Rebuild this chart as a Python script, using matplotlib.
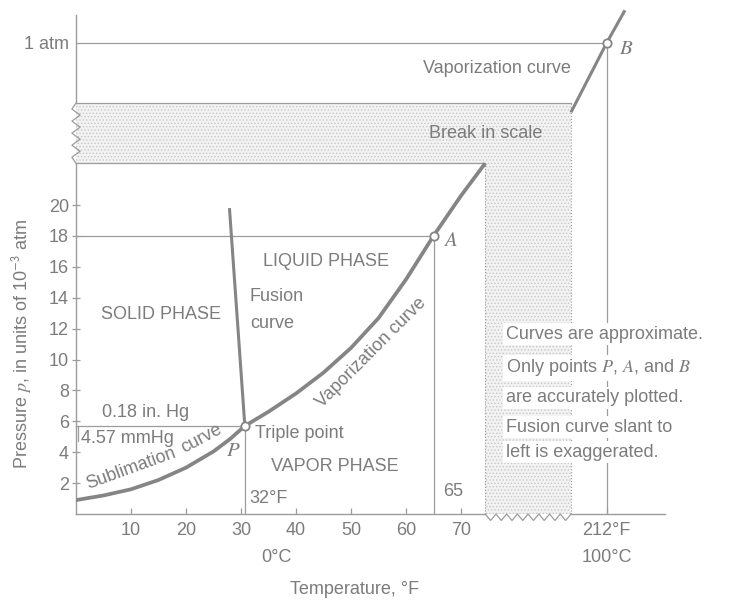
import numpy as np
import matplotlib
matplotlib.use('Agg')
import matplotlib.pyplot as plt
from matplotlib.patches import Polygon

plt.rcParams['font.family'] = ['Liberation Sans', 'DejaVu Sans']
plt.rcParams['mathtext.fontset'] = 'stix'
plt.rcParams['hatch.linewidth'] = 0.6

# Sublimation + vaporization curve, lower part (T in F, p in 1e-3 atm)
curve_T = [0, 5, 10, 15, 20, 25, 28, 30.7, 35, 40, 45, 50, 55, 60, 65, 70, 74.4]
curve_p = [0.9, 1.2, 1.6, 2.2, 3.0, 4.05, 4.85, 5.7, 6.62, 7.8, 9.15, 10.75, 12.68, 15.18, 18.0, 20.6, 22.7]

# Fusion curve
fusion_T = [30.7, 27.9]
fusion_p = [5.7, 19.8]

# Vaporization curve above the break in scale
upper_T = [90.0, 96.5, 99.8]
upper_p = [26.0, 30.5, 32.6]

# Marked points P, A, B
point_names = ['P', 'A', 'B']
point_T = [30.7, 65.0, 96.5]
point_p = [5.7, 18.0, 30.5]

# Break in scale (plot units)
break_x = [74.4, 90.0]
break_y = [22.7, 26.6]

x_ticks = [10, 20, 30, 40, 50, 60, 70, 96.5]
x_labels = ['10', '20', '30', '40', '50', '60', '70', '212°F']
y_ticks = [2, 4, 6, 8, 10, 12, 14, 16, 18, 20, 30.5]
y_labels = ['2', '4', '6', '8', '10', '12', '14', '16', '18', '20', '1 atm']

note_lines = ['Curves are approximate.',
              'Only points $P$, $A$, and $B$',
              'are accurately plotted.',
              'Fusion curve slant to',
              'left is exaggerated.']
note_p = [11.65, 9.45, 7.51, 5.63, 4.01]

text_c = '#7c7c7c'
thin_c = '#9c9c9c'
curve_c = '#858585'

fig = plt.figure(figsize=(7.29, 6.07), dpi=100)
ax = fig.add_axes([76 / 729, 93 / 607, 605 / 729, 33 * 15.45 / 607])
ax.set_xlim(0, 110)
ax.set_ylim(0, 33)
for s in ax.spines.values():
    s.set_visible(False)

# shaded L-shaped break region
bx0, bx1 = break_x
by0, by1 = break_y
shade = Polygon([(0, by0), (0, by1), (bx1, by1), (bx1, 0), (bx0, 0), (bx0, by0)],
                closed=True, facecolor='#f2f2f2', edgecolor='#c8c8c8',
                hatch='.....', linewidth=0, zorder=1)
ax.add_patch(shade)
ax.plot([0, bx1], [by1, by1], color=thin_c, lw=0.9, zorder=2)
ax.plot([0, bx0], [by0, by0], color=thin_c, lw=0.9, zorder=2)
ax.plot([bx0, bx0], [0, by0], color=thin_c, lw=0.8, ls=':', zorder=2)
ax.plot([bx1, bx1], [0, by1], color=thin_c, lw=0.8, ls=':', zorder=2)

# axes with breaks
ax.plot([0, 0], [0, by0], color=thin_c, lw=1.0, clip_on=False, zorder=3)
ax.plot([0, 0], [by1, 32.3], color=thin_c, lw=1.0, clip_on=False, zorder=3)
ax.plot([0, bx0], [0, 0], color=thin_c, lw=1.0, clip_on=False, zorder=3)
ax.plot([bx1, 107], [0, 0], color=thin_c, lw=1.0, clip_on=False, zorder=3)

# zigzags
zy = np.linspace(by0, by1, 11)
zx = np.array([0] + [(-0.75 if i % 2 else 0.75) for i in range(1, 10)] + [0])
ax.plot(zx, zy, color=thin_c, lw=0.9, clip_on=False, zorder=3)
zx2 = np.linspace(bx0, bx1, 17)
zy2 = np.array([0 if i % 2 == 0 else -0.42 for i in range(17)])
ax.plot(zx2, zy2, color=thin_c, lw=0.9, clip_on=False, zorder=3)

# guide lines
pT, aT, bT = point_T
pP, aP, bP = point_p
ax.plot([0, pT], [pP, pP], color=thin_c, lw=0.9, zorder=2)
ax.plot([pT, pT], [0, pP], color=thin_c, lw=0.9, zorder=2)
ax.plot([0, aT], [aP, aP], color=thin_c, lw=0.9, zorder=2)
ax.plot([aT, aT], [0, aP], color=thin_c, lw=0.9, zorder=2)
ax.plot([0, bT], [bP, bP], color=thin_c, lw=0.9, zorder=2)
ax.plot([bT, bT], [0, bP], color=thin_c, lw=0.9, zorder=2)
ax.plot([0.4, 0.4], [pP, pP - 1.0], color=thin_c, lw=0.9, zorder=2)

# curves
ax.plot(curve_T, curve_p, color=curve_c, lw=2.7, solid_capstyle='butt',
        solid_joinstyle='round', zorder=4)
ax.plot(fusion_T, fusion_p, color=curve_c, lw=2.2, solid_capstyle='butt', zorder=4)
ax.plot(upper_T, upper_p, color=curve_c, lw=2.2, solid_capstyle='butt', zorder=4, clip_on=False)
ax.plot(point_T, point_p, 'o', ms=6, mfc='white', mec=curve_c, mew=1.3, zorder=5)

# ticks
ax.set_xticks(x_ticks)
ax.set_xticklabels(x_labels)
ax.set_yticks(y_ticks)
ax.set_yticklabels(y_labels)
ax.tick_params(axis='x', direction='in', length=4, width=0.9, color=thin_c,
               labelcolor=text_c, labelsize=13, pad=6)
ax.tick_params(axis='y', direction='inout', length=6, width=0.9, color=thin_c,
               labelcolor=text_c, labelsize=13, pad=2)
ax.yaxis.get_major_ticks()[-1].tick1line.set_visible(False)

kw = dict(color=text_c, fontsize=13, zorder=6)
ax.text(36.5, -2.8, '0°C', ha='center', va='center', clip_on=False, **kw)
ax.text(96.5, -2.8, '100°C', ha='center', va='center', clip_on=False, **kw)
ax.text(50.7, -4.9, 'Temperature, °F', ha='center', va='center', clip_on=False, **kw)
ax.text(-9.8, 11.0, 'Pressure $p$, in units of 10$^{\\mathsf{-3}}$ atm', rotation=90,
        ha='center', va='center', clip_on=False, **kw)

ax.text(76.5, 28.85, 'Vaporization curve', ha='center', va='center', **kw)
ax.text(74.4, 24.65, 'Break in scale', ha='center', va='center', **kw)
ax.text(45.4, 16.33, 'LIQUID PHASE', ha='center', va='center', **kw)
ax.text(15.4, 12.9, 'SOLID PHASE', ha='center', va='center', **kw)
ax.text(31.6, 14.07, 'Fusion', ha='left', va='center', **kw)
ax.text(31.6, 12.34, 'curve', ha='left', va='center', **kw)
ax.text(53.6, 10.45, 'Vaporization curve', rotation=45, ha='center', va='center', **kw)
ax.text(10.0, 2.95, 'Sublimation', rotation=20, ha='center', va='center', **kw)
ax.text(22.9, 4.9, 'curve', rotation=28, ha='center', va='center', **kw)
ax.text(12.7, 6.6, '0.18 in. Hg', ha='center', va='center', **kw)
ax.text(0.9, 4.9, '4.57 mmHg', ha='left', va='center', **kw)
ax.text(32.6, 5.22, 'Triple point', ha='left', va='center', **kw)
ax.text(47.1, 3.1, 'VAPOR PHASE', ha='center', va='center', **kw)
ax.text(31.6, 1.0, '32°F', ha='left', va='center', **kw)
ax.text(68.6, 1.44, '65', ha='center', va='center', **kw)

for name, t, p, dx, dy in zip(point_names, point_T, point_p, [-2.1, 3.1, 3.5], [-1.6, -0.3, -0.4]):
    ax.text(t + dx, p + dy, '$' + name + '$', ha='center', va='center',
            color=text_c, fontsize=15, zorder=6)

for line, p in zip(note_lines, note_p):
    ax.text(78.1, p, line, ha='left', va='center',
            bbox=dict(facecolor='white', edgecolor='none', pad=1.5), **kw)

fig.savefig('out.png', dpi=100)
